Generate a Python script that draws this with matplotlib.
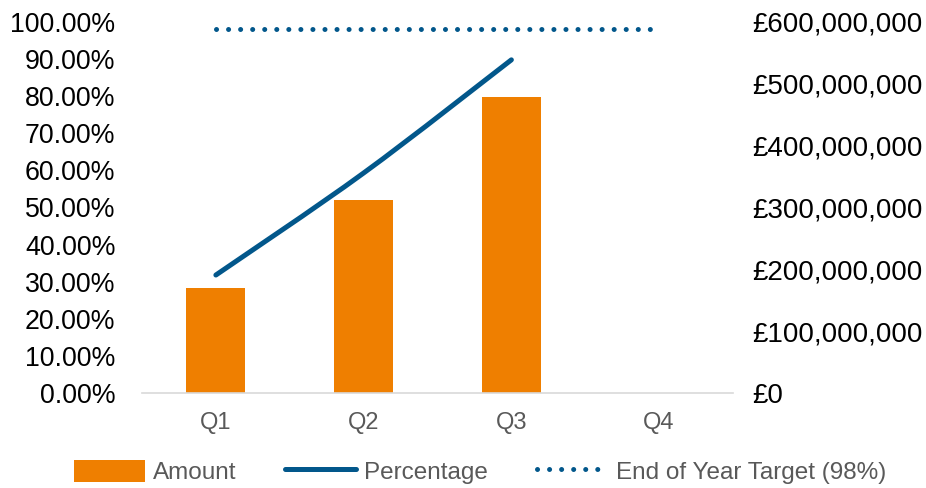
import matplotlib
matplotlib.use("Agg")
import matplotlib.pyplot as plt
from matplotlib.ticker import FuncFormatter, MultipleLocator
from matplotlib.lines import Line2D
from matplotlib.patches import Patch, PathPatch
from matplotlib.path import Path

quarters = ["Q1", "Q2", "Q3", "Q4"]
amount = [170_000_000, 312_000_000, 478_000_000, None]
percentage = [0.318, 0.593, 0.898, None]
target = 0.98

orange = "#EF7F00"
blue = "#02578B"
line_w = 3.6
dot_style = (0, (0.01, 2.4))

plt.rcParams["font.family"] = ["Liberation Sans", "DejaVu Sans"]

fig = plt.figure(figsize=(9.26, 4.88), dpi=100)
ax = fig.add_axes([142 / 926, 1 - 393 / 488, (733 - 142) / 926, (393 - 22) / 488])
ax2 = ax.twinx()

x = list(range(len(quarters)))

# bars on the right (currency) axis
bx = [i for i, v in zip(x, amount) if v is not None]
bv = [v for v in amount if v is not None]
ax2.bar(bx, bv, width=0.4, color=orange, zorder=2)

# cumulative percentage as a smoothed line (Catmull-Rom style Bezier segments)
px = [i for i, v in zip(x, percentage) if v is not None]
pv = [v for v in percentage if v is not None]
pts = list(zip(px, pv))
verts = [pts[0]]
codes = [Path.MOVETO]
k = 1 / 6
for i in range(len(pts) - 1):
    p0 = pts[i - 1] if i > 0 else pts[i]
    p1 = pts[i]
    p2 = pts[i + 1]
    p3 = pts[i + 2] if i + 2 < len(pts) else pts[i + 1]
    c1 = (p1[0] + (p2[0] - p0[0]) * k, p1[1] + (p2[1] - p0[1]) * k)
    c2 = (p2[0] - (p3[0] - p1[0]) * k, p2[1] - (p3[1] - p1[1]) * k)
    verts += [c1, c2, p2]
    codes += [Path.CURVE4] * 3
ax.add_patch(PathPatch(Path(verts, codes), facecolor="none", edgecolor=blue,
                       lw=line_w, capstyle="round", joinstyle="round", zorder=3))

# end of year target
ax.plot(x, [target] * len(x), color=blue, lw=line_w,
        linestyle=dot_style, dash_capstyle="round", zorder=3)

ax.set_zorder(ax2.get_zorder() + 1)
ax.patch.set_visible(False)

ax.set_xlim(-0.5, 3.5)
ax.set_ylim(0, 1.0)
ax2.set_ylim(0, 600_000_000)
ax.yaxis.set_major_locator(MultipleLocator(0.1))
ax2.yaxis.set_major_locator(MultipleLocator(100_000_000))
ax.yaxis.set_major_formatter(FuncFormatter(lambda v, _: f"{v * 100:.2f}%"))
ax2.yaxis.set_major_formatter(FuncFormatter(lambda v, _: f"£{v:,.0f}"))

ax.set_xticks(x)
ax.set_xticklabels(quarters)

for a in (ax, ax2):
    for s in a.spines.values():
        s.set_visible(False)
ax.spines["bottom"].set_visible(True)
ax.spines["bottom"].set_color("#D9D9D9")
ax.spines["bottom"].set_linewidth(1.2)

ax.tick_params(axis="y", length=0, pad=19, labelsize=19.3, labelcolor="black")
ax2.tick_params(axis="y", length=0, pad=14, labelsize=20, labelcolor="black")
ax.tick_params(axis="x", length=0, pad=14, labelsize=17, labelcolor="#595959")

handles = [
    Patch(facecolor=orange, edgecolor="none"),
    Line2D([0], [0], color=blue, lw=line_w, solid_capstyle="round"),
    Line2D([0], [0], color=blue, lw=line_w, linestyle=dot_style, dash_capstyle="round"),
]
labels = ["Amount", "Percentage", "End of Year Target (98%)"]
leg = fig.legend(handles, labels, loc="center", bbox_to_anchor=(480 / 926, 1 - 472 / 488),
                 ncol=3, frameon=False, fontsize=17.5, handlelength=2.9, handleheight=1.0,
                 handletextpad=0.35, columnspacing=2.0)
for t in leg.get_texts():
    t.set_color("#595959")

fig.savefig("out.png", dpi=100)
